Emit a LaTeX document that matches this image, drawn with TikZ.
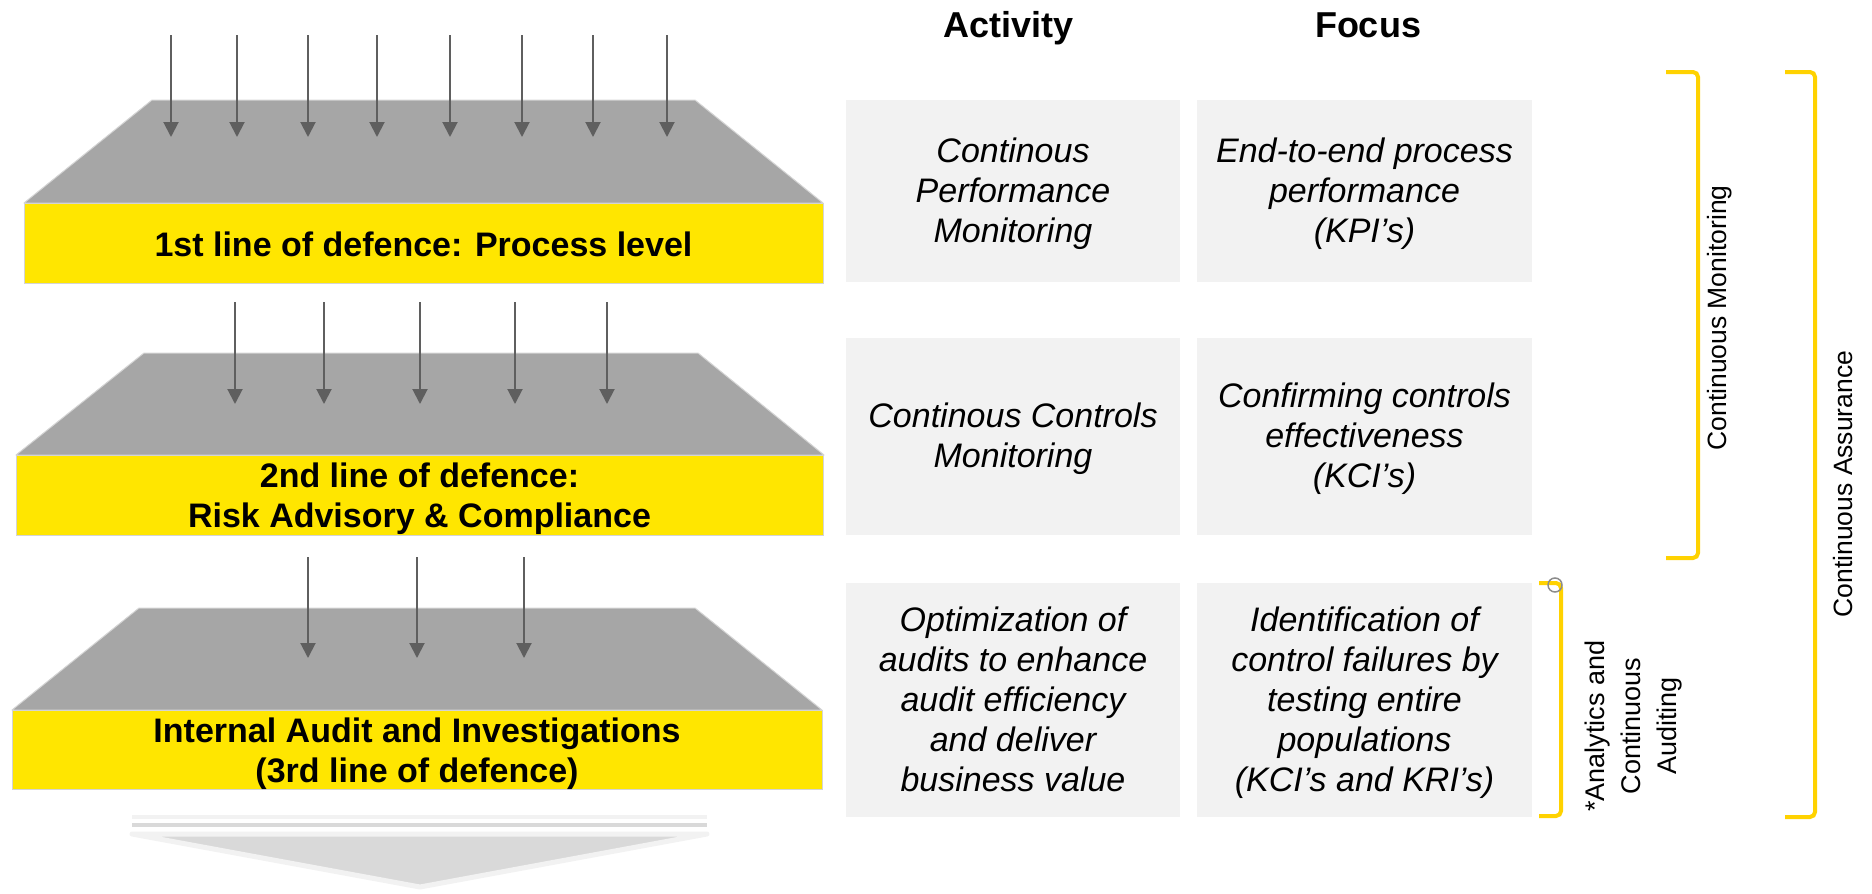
\documentclass[tikz,border=0pt]{standalone}
\usepackage{fontspec}
\setmainfont{Liberation Sans}
\usetikzlibrary{arrows.meta}
\definecolor{eyyellow}{HTML}{FFE600}
\definecolor{brk}{HTML}{FFD200}
\definecolor{plate}{HTML}{A6A6A6}
\definecolor{plateedge}{HTML}{D4D4D4}
\definecolor{boxgray}{HTML}{F2F2F2}
\definecolor{midgray}{HTML}{D9D9D9}
\definecolor{arrgray}{HTML}{5F5F5F}
\definecolor{ringgray}{HTML}{8C8C8C}
\begin{document}
\begin{tikzpicture}[x=1pt,y=-1pt,
  arr/.style={draw=arrgray,line width=2pt,-{Triangle[width=15pt,length=15pt]}},
  plateshape/.style={fill=plate,draw=plateedge,line width=1pt,line join=round},
  ybox/.style={fill=eyyellow,draw=plateedge,line width=1pt,inner sep=0pt},
  ylabel/.style={font=\fontsize{34}{40}\selectfont\bfseries,align=center,anchor=base,inner sep=0pt},
  gbox/.style={fill=boxgray,inner sep=0pt},
  gtext/.style={font=\fontsize{34}{40}\selectfont\itshape,align=center,anchor=base,inner sep=0pt},
  head/.style={font=\fontsize{36}{43}\selectfont\bfseries,anchor=base,inner sep=0pt},
  bracket/.style={draw=brk,line width=4pt,rounded corners=5pt},
  blabel/.style={font=\fontsize{26.5}{32}\selectfont,rotate=90,inner sep=0pt},
]
\useasboundingbox (0,0) rectangle (1872,894);

% ---------- layer 1 ----------
\path[plateshape] (152,100) -- (695,100) -- (823,203) -- (24,203) -- cycle;
\node[ybox,minimum width=799pt,minimum height=80pt] (y1) at (423.5,243) {};
\node[ylabel] (t1) at (423.5,256) {1st line of defence: Process level};
\foreach \x [count=\i] in {171,237,308,377,450,522,593,667} {
  \coordinate (a1s\i) at (\x,35); \coordinate (a1e\i) at (\x,137);
  \draw[arr] (a1s\i) -- (a1e\i);
}

% ---------- layer 2 ----------
\path[plateshape] (144,353) -- (698,353) -- (824,455) -- (16,455) -- cycle;
\node[ybox,minimum width=807pt,minimum height=80pt] (y2) at (420,495) {};
\node[ylabel] (t2) at (419.5,527) {2nd line of defence:\\Risk Advisory \& Compliance};
\foreach \x [count=\i] in {235,324,420,515,607} {
  \coordinate (a2s\i) at (\x,302); \coordinate (a2e\i) at (\x,404);
  \draw[arr] (a2s\i) -- (a2e\i);
}

% ---------- layer 3 ----------
\path[plateshape] (139,608) -- (695,608) -- (822,710) -- (12,710) -- cycle;
\node[ybox,minimum width=810pt,minimum height=79pt] (y3) at (417,749.5) {};
\node[ylabel] (t3) at (417,782) {Internal Audit and Investigations\\(3rd line of defence)};
\foreach \x [count=\i] in {308,417,524} {
  \coordinate (a3s\i) at (\x,557); \coordinate (a3e\i) at (\x,658);
  \draw[arr] (a3s\i) -- (a3e\i);
}

% ---------- bottom arrow ----------
\coordinate (bl1) at (132,817); \coordinate (br1) at (707,817);
\coordinate (bl2) at (132,825); \coordinate (br2) at (707,825);
\draw[draw=boxgray,line width=4pt] (bl1) -- (br1);
\draw[draw=midgray,line width=4.5pt] (bl2) -- (br2);
\path[fill=midgray,draw=boxgray,line width=5pt,line join=round] (132,834) -- (707,834) -- (420,887) -- cycle;

% ---------- headers ----------
\node[head] (hact) at (1008.5,37) {Activity};
\node[head] (hfoc) at (1368,37) {Focus};

% ---------- grey boxes ----------
\node[gbox,minimum width=334pt,minimum height=182pt] (b11) at (1013,191) {};
\node[gbox,minimum width=335pt,minimum height=182pt] (b12) at (1364.5,191) {};
\node[gbox,minimum width=334pt,minimum height=197pt] (b21) at (1013,436.5) {};
\node[gbox,minimum width=335pt,minimum height=197pt] (b22) at (1364.5,436.5) {};
\node[gbox,minimum width=334pt,minimum height=234pt] (b31) at (1013,700) {};
\node[gbox,minimum width=335pt,minimum height=234pt] (b32) at (1364.5,700) {};

\node[gtext] (x11) at (1013,242) {Continous\\Performance\\Monitoring};
\node[gtext] (x12) at (1364.5,242) {End-to-end process\\performance\\(KPI’s)};
\node[gtext] (x21) at (1013,467) {Continous Controls\\Monitoring};
\node[gtext] (x22) at (1364.5,487) {Confirming controls\\effectiveness\\(KCI’s)};
\node[gtext] (x31) at (1013,791.5) {Optimization of\\audits to enhance\\audit efficiency\\and deliver\\business value};
\node[gtext] (x32) at (1364.5,791.5) {Identification of\\control failures by\\testing entire\\populations\\(KCI’s and KRI’s)};

% ---------- brackets ----------
\draw[bracket] (1666,72) -- (1698,72) -- (1698,558) -- (1666,558);
\draw[bracket] (1785,72) -- (1815,72) -- (1815,817) -- (1785,817);
\draw[bracket] (1539,583) -- (1561,583) -- (1561,816) -- (1539,816);
\draw[draw=ringgray,line width=1.5pt] (1555,585) circle[radius=7pt];

\node[blabel] (lcm) at (1720,318) {Continuous Monitoring};
\node[blabel] (lca) at (1843,484) {Continuous Assurance};
\node[blabel,align=center,font=\fontsize{27}{36}\selectfont] (lan) at (1634,726) {*Analytics and\\Continuous\\Auditing};
\end{tikzpicture}
\end{document}
